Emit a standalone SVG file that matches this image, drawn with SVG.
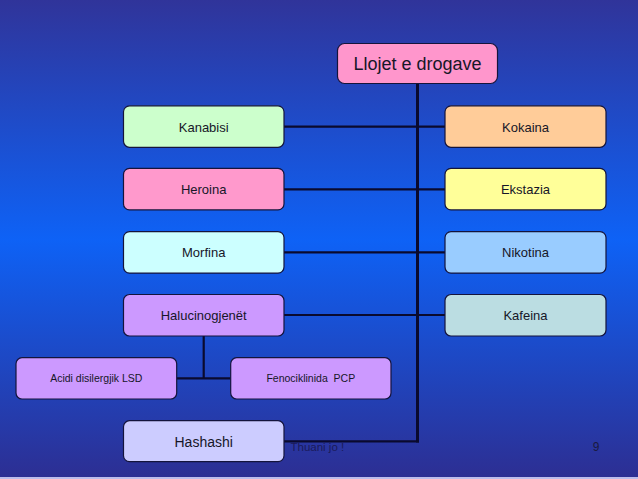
<svg xmlns="http://www.w3.org/2000/svg" width="638" height="479" viewBox="0 0 638 479">
<defs>
<linearGradient id="bg" x1="0" y1="0" x2="0" y2="1">
<stop offset="0" stop-color="#30349a"/>
<stop offset="0.5" stop-color="#0e62f6"/>
<stop offset="1" stop-color="#2d2e92"/>
</linearGradient>
<style>
.box{stroke:#14143c;stroke-width:1.2}
.t{font-family:"Liberation Sans",Arial,sans-serif;fill:#161628;text-anchor:middle}
.conn line,.conn polyline{stroke:#0a0a2e;stroke-width:2.2;fill:none}
.conn .trunk{stroke-width:3}
</style>
</defs>
<rect x="0" y="0" width="638" height="479" fill="url(#bg)"/>
<rect x="0" y="477" width="638" height="2" fill="#bcbcec"/>
<g class="conn">
<line class="trunk" x1="417.5" y1="83" x2="417.5" y2="442.5"/>
<line x1="284" y1="126.7" x2="445" y2="126.7"/>
<line x1="284" y1="189.3" x2="445" y2="189.3"/>
<line x1="284" y1="252.3" x2="445" y2="252.3"/>
<line x1="284" y1="315" x2="445" y2="315"/>
<line x1="284" y1="441.3" x2="419" y2="441.3"/>
<line x1="203.7" y1="336" x2="203.7" y2="378.3"/>
<line x1="176.7" y1="378.3" x2="230.7" y2="378.3"/>
</g>
<g id="root"><rect class="box" x="337.5" y="43.5" width="160" height="40" rx="7" fill="#ff96cc"/><text class="t" x="417.5" y="70" font-size="18">Llojet e drogave</text></g>
<g id="kanabisi"><rect class="box" x="123.5" y="105.8" width="160.5" height="41.5" rx="6" fill="#ccffcc"/><text class="t" x="203.7" y="131.5" font-size="13">Kanabisi</text></g>
<g id="heroina"><rect class="box" x="123.5" y="168.4" width="160.5" height="41.5" rx="6" fill="#ff99cc"/><text class="t" x="203.7" y="194" font-size="13">Heroina</text></g>
<g id="morfina"><rect class="box" x="123.5" y="231.6" width="160.5" height="41.5" rx="6" fill="#ccffff"/><text class="t" x="203.7" y="257" font-size="13">Morfina</text></g>
<g id="halucinogjenet"><rect class="box" x="123.5" y="294.5" width="160.5" height="41.5" rx="6" fill="#cc99ff"/><text class="t" x="203.7" y="320" font-size="13">Halucinogjenët</text></g>
<g id="lsd"><rect class="box" x="16" y="357.7" width="160.7" height="41.3" rx="6" fill="#cc99ff"/><text class="t" x="96.3" y="382.3" font-size="10.5">Acidi disilergjik LSD</text></g>
<g id="pcp"><rect class="box" x="230.7" y="357.7" width="160.3" height="41.3" rx="6" fill="#cc99ff"/><text class="t" x="310.8" y="382.3" font-size="10.5" xml:space="preserve">Fenociklinida  PCP</text></g>
<g id="hashashi"><rect class="box" x="123.5" y="420.7" width="160.5" height="41" rx="6" fill="#ccccff"/><text class="t" x="203.7" y="446.5" font-size="14">Hashashi</text></g>
<g id="kokaina"><rect class="box" x="445" y="105.8" width="161" height="41.5" rx="6" fill="#ffcc99"/><text class="t" x="525.5" y="131.5" font-size="13">Kokaina</text></g>
<g id="ekstazia"><rect class="box" x="445" y="168.4" width="161" height="41.5" rx="6" fill="#ffff99"/><text class="t" x="525.5" y="194" font-size="13">Ekstazia</text></g>
<g id="nikotina"><rect class="box" x="445" y="231.6" width="161" height="41.5" rx="6" fill="#99ccff"/><text class="t" x="525.5" y="257" font-size="13">Nikotina</text></g>
<g id="kafeina"><rect class="box" x="445" y="294.5" width="161" height="41.5" rx="6" fill="#bbdde2"/><text class="t" x="525.5" y="320" font-size="13">Kafeina</text></g>
<text x="290.5" y="450.5" font-family="'Liberation Sans',Arial,sans-serif" font-size="11.5" fill="#1a1a5a">Thuani jo !</text>
<text x="596" y="451" font-family="'Liberation Sans',Arial,sans-serif" font-size="12" fill="#1a1a40" text-anchor="middle">9</text>
</svg>
